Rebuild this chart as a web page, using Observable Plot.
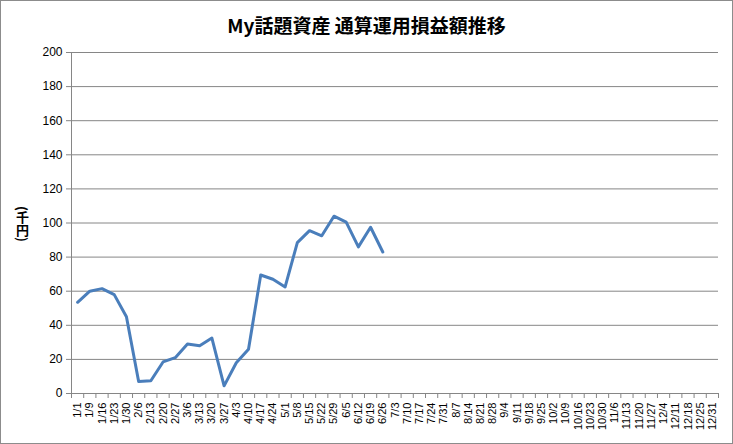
<!DOCTYPE html>
<html>
<head>
<meta charset="utf-8">
<script src="https://cdn.jsdelivr.net/npm/d3@7"></script>
<script src="https://cdn.jsdelivr.net/npm/@observablehq/plot@0.6"></script>
<style>
  html, body { margin: 0; padding: 0; background: #fff; }
  #wrap { position: relative; width: 731px; height: 442px; border: 1px solid #8c8c8c; overflow: hidden; }
  #title { position: absolute; left: 0; top: 10px; width: 731px; text-align: center;
           font-family: "Noto Sans CJK JP", sans-serif; font-weight: bold; font-size: 19px; color: #000; z-index: 2; }
  #ylabel { position: absolute; left: 12px; top: 205px; writing-mode: vertical-rl;
            font-family: "Noto Sans CJK JP", sans-serif; font-weight: bold; font-size: 13px; color: #000; z-index: 2; }
  #chart { position: absolute; left: 0; top: 0; }
</style>
</head>
<body>
<div id="wrap">
  <div id="title">My話題資産 通算運用損益額推移</div>
  <div id="ylabel">(千円)</div>
  <div id="chart"></div>
</div>
<script>
const weeks = ["1/1","1/9","1/16","1/23","1/30","2/6","2/13","2/20","2/27","3/6","3/13","3/20","3/27",
  "4/3","4/10","4/17","4/24","5/1","5/8","5/15","5/22","5/29","6/5","6/12","6/19","6/26",
  "7/3","7/10","7/17","7/24","7/31","8/7","8/14","8/21","8/28","9/4","9/11","9/18","9/25",
  "10/2","10/9","10/16","10/23","10/30","11/6","11/13","11/20","11/27","12/4","12/11","12/18","12/25","12/31"];
const values = [53.5, 60, 61.5, 58, 45, 7, 7.5, 18.5, 21, 29, 28, 32.5, 4.5,
  18, 26, 69.5, 67, 62.5, 88.5, 95.5, 92.5, 104, 100.5, 86, 97.5, 83];
const yTicks = [0, 20, 40, 60, 80, 100, 120, 140, 160, 180, 200];

const data = values.map((v, i) => ({week: weeks[i], value: v}));

const W = 731, H = 442, mL = 70, mR = 14, mT = 51, mB = 50;
const step = (W - mL - mR) / weeks.length;
const grey = "#868686";

const chart = Plot.plot({
  width: W, height: H,
  marginLeft: mL, marginRight: mR, marginTop: mT, marginBottom: mB,
  style: {fontFamily: "Liberation Sans, Arial, sans-serif", color: "#000", background: "transparent"},
  x: {type: "band", domain: weeks, padding: 0, round: false, label: null},
  y: {domain: [0, 200], label: null},
  marks: [
    Plot.gridY(yTicks, {stroke: grey, strokeOpacity: 1}),
    Plot.ruleX([weeks[0]], {dx: -step / 2, stroke: grey}),
    Plot.ruleY([0], {stroke: grey}),
    Plot.axisY(yTicks, {tickSize: 5, tickPadding: 4, stroke: grey, fill: "#000", fontSize: 12, label: null}),
    Plot.axisX({tickSize: 5, tickFormat: () => "", dx: -step / 2, stroke: grey, label: null}),
    Plot.axisX([weeks[weeks.length - 1]], {tickSize: 5, tickFormat: () => "", dx: step / 2, stroke: grey, label: null}),
    Plot.axisX({tickSize: 0, tickPadding: 9, tickRotate: -90, fontSize: 11, fill: "#000", label: null}),
    Plot.line(data, {x: "week", y: "value", stroke: "#4a7ebb", strokeWidth: 3, strokeLinejoin: "round", strokeLinecap: "round"})
  ]
});
document.getElementById("chart").appendChild(chart);
</script>
</body>
</html>
